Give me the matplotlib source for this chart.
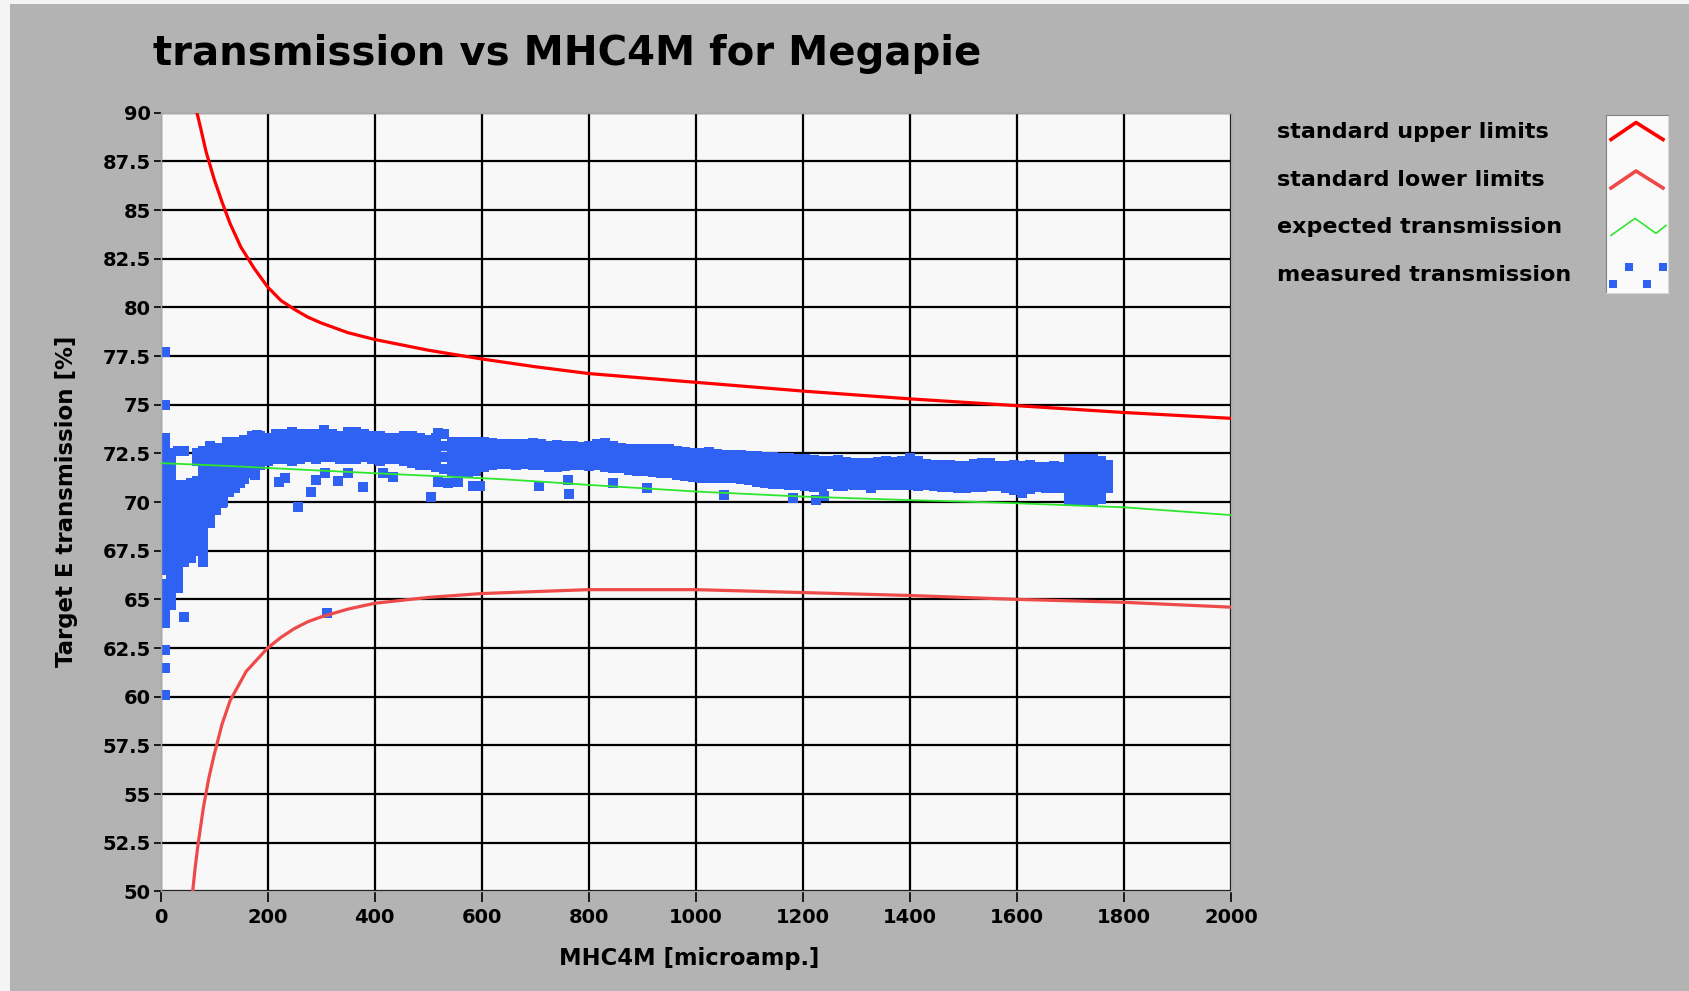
import matplotlib
matplotlib.use("Agg")
import matplotlib.pyplot as plt
from matplotlib.patches import Rectangle

plt.rcParams['font.family'] = ['DejaVu Sans']
plt.rcParams['font.weight'] = 'bold'

# limit curves and expected transmission
upper_x = [68, 75, 85, 100, 115, 130, 150, 175, 200, 225, 250, 275, 300, 350, 400, 500, 600, 700,
           800, 1000, 1200, 1400, 1600, 1800, 2000]
upper_y = [90.0, 89.2, 88.0, 86.6, 85.4, 84.3, 83.1, 82.0, 81.05, 80.35, 79.9, 79.5, 79.2, 78.7,
           78.35, 77.8, 77.35, 76.95, 76.6, 76.15, 75.7, 75.3, 74.95, 74.6, 74.3]

lower_x = [60, 65, 70, 80, 90, 100, 115, 130, 160, 200, 225, 250, 275, 300, 350, 400, 500, 600,
           700, 800, 1000, 1200, 1400, 1600, 1800, 2000]
lower_y = [50.0, 51.3, 52.4, 54.3, 55.8, 57.0, 58.6, 59.8, 61.3, 62.5, 63.05, 63.5, 63.85, 64.1,
           64.5, 64.8, 65.1, 65.3, 65.4, 65.5, 65.5, 65.35, 65.2, 65.0, 64.85, 64.6]

expected_x = [0, 130, 200, 400, 634, 709, 800, 1000, 1200, 1400, 1568, 1800, 2000]
expected_y = [72.0, 71.85, 71.75, 71.48, 71.18, 71.05, 70.88, 70.54, 70.28, 70.1, 69.97, 69.73, 69.33]

# measured transmission: main band (four rows of points per current value)
band_x = [95, 110, 125, 140, 155, 170, 185, 200, 215, 230, 245, 260, 275, 290, 305, 320, 335, 350,
          365, 380, 395, 410, 425, 440, 455, 470, 485, 500, 515, 530, 545, 560, 575, 590, 605, 620,
          635, 650, 665, 680, 695, 710, 725, 740, 755, 770, 785, 800, 815, 830, 845, 860, 875, 890,
          905, 920, 935, 950, 965, 980, 995, 1010, 1025, 1040, 1055, 1070, 1085, 1100, 1115, 1130,
          1145, 1160, 1175, 1190, 1205, 1220, 1235, 1250, 1265, 1280, 1295, 1310, 1325, 1340, 1355,
          1370, 1385, 1400, 1415, 1430, 1445, 1460, 1475, 1490, 1505, 1520, 1535, 1550, 1565, 1580,
          1595, 1610, 1625, 1640, 1655, 1670, 1685]
band_top = [72.4, 72.8, 73.1, 73.1, 73.2, 73.4, 73.4, 73.3, 73.5, 73.5, 73.6, 73.5, 73.5, 73.5,
            73.7, 73.5, 73.4, 73.6, 73.6, 73.5, 73.4, 73.4, 73.3, 73.3, 73.4, 73.4, 73.3, 73.2,
            73.3, 73.5, 73.1, 73.1, 73.1, 73.1, 73.1, 73.05, 73.0, 73.0, 73.0, 73.0, 73.05, 73.0,
            72.9, 72.95, 72.9, 72.9, 72.85, 72.9, 73.0, 73.05, 72.9, 72.8, 72.75, 72.75, 72.7,
            72.7, 72.75, 72.7, 72.6, 72.55, 72.5, 72.5, 72.55, 72.45, 72.4, 72.4, 72.4, 72.35,
            72.35, 72.3, 72.3, 72.25, 72.25, 72.2, 72.2, 72.15, 72.1, 72.1, 72.15, 72.05, 72.0,
            72.0, 72.0, 72.05, 72.1, 72.05, 72.1, 72.25, 72.1, 71.95, 71.9, 71.9, 71.9, 71.85,
            71.85, 71.95, 72.0, 72.0, 71.85, 71.85, 71.9, 71.85, 71.9, 71.8, 71.8, 71.85, 71.8]
band_upper = [72.07, 72.27, 72.4, 72.43, 72.53, 72.77, 72.9, 72.9, 73.07, 73.07, 73.1, 73.07, 73.1,
              73.07, 73.23, 73.1, 73.0, 73.13, 73.13, 73.1, 73.0, 72.97, 72.93, 72.93, 72.97,
              72.93, 72.83, 72.77, 72.8, 72.9, 72.6, 72.58, 72.58, 72.6, 72.67, 72.67, 72.65,
              72.65, 72.63, 72.65, 72.67, 72.63, 72.53, 72.57, 72.55, 72.57, 72.53, 72.55, 72.63,
              72.63, 72.52, 72.45, 72.38, 72.37, 72.33, 72.32, 72.33, 72.3, 72.2, 72.15, 72.1,
              72.08, 72.12, 72.05, 72.02, 72.02, 72.0, 71.95, 71.92, 71.87, 71.85, 71.82, 71.8,
              71.77, 71.73, 71.68, 71.67, 71.72, 71.7, 71.68, 71.62, 71.63, 71.65, 71.67, 71.7,
              71.65, 71.7, 71.78, 71.67, 71.58, 71.53, 71.52, 71.52, 71.47, 71.47, 71.55, 71.58,
              71.6, 71.5, 71.47, 71.47, 71.38, 71.48, 71.45, 71.43, 71.47, 71.43]
band_lower = [71.73, 71.73, 71.7, 71.77, 71.87, 72.13, 72.4, 72.5, 72.63, 72.63, 72.6, 72.63, 72.7,
              72.63, 72.77, 72.7, 72.6, 72.67, 72.67, 72.7, 72.6, 72.53, 72.57, 72.57, 72.53,
              72.47, 72.37, 72.33, 72.3, 72.3, 72.1, 72.07, 72.07, 72.1, 72.23, 72.28, 72.3, 72.3,
              72.27, 72.3, 72.28, 72.27, 72.17, 72.18, 72.2, 72.23, 72.22, 72.2, 72.27, 72.22,
              72.13, 72.1, 72.02, 71.98, 71.97, 71.93, 71.92, 71.9, 71.8, 71.75, 71.7, 71.67,
              71.68, 71.65, 71.63, 71.63, 71.6, 71.55, 71.48, 71.43, 71.4, 71.38, 71.35, 71.33,
              71.27, 71.22, 71.23, 71.33, 71.25, 71.32, 71.23, 71.27, 71.3, 71.28, 71.3, 71.25,
              71.3, 71.32, 71.23, 71.22, 71.17, 71.13, 71.13, 71.08, 71.08, 71.15, 71.17, 71.2,
              71.15, 71.08, 71.03, 70.92, 71.07, 71.1, 71.07, 71.08, 71.07]
band_bottom = [71.4, 71.2, 71.0, 71.1, 71.2, 71.5, 71.9, 72.1, 72.2, 72.2, 72.1, 72.2, 72.3, 72.2,
               72.3, 72.3, 72.2, 72.2, 72.2, 72.3, 72.2, 72.1, 72.2, 72.2, 72.1, 72.0, 71.9, 71.9,
               71.8, 71.7, 71.6, 71.55, 71.55, 71.6, 71.8, 71.9, 71.95, 71.95, 71.9, 71.95, 71.9,
               71.9, 71.8, 71.8, 71.85, 71.9, 71.9, 71.85, 71.9, 71.8, 71.75, 71.75, 71.65, 71.6,
               71.6, 71.55, 71.5, 71.5, 71.4, 71.35, 71.3, 71.25, 71.25, 71.25, 71.25, 71.25, 71.2,
               71.15, 71.05, 71.0, 70.95, 70.95, 70.9, 70.9, 70.8, 70.75, 70.8, 70.95, 70.8, 70.95,
               70.85, 70.9, 70.95, 70.9, 70.9, 70.85, 70.9, 70.85, 70.8, 70.85, 70.8, 70.75, 70.75,
               70.7, 70.7, 70.75, 70.75, 70.8, 70.8, 70.7, 70.6, 70.45, 70.65, 70.75, 70.7, 70.7,
               70.7]

# measured transmission: low-current cluster
cluster_x = [8, 8, 8, 8, 8, 8, 8, 8, 8, 8, 8, 8, 8, 8, 8, 8, 8, 8, 8, 8, 8, 8, 8, 8, 8, 8, 8, 8, 8,
             20, 20, 20, 20, 20, 20, 20, 20, 20, 20, 20, 20, 20, 20, 20, 20, 20, 20, 20, 20,
             32, 32, 32, 32, 32, 32, 32, 32, 32, 32, 32, 32, 32, 32, 32,
             44, 44, 44, 44, 44, 44, 44, 44, 44, 44, 44, 44, 44,
             56, 56, 56, 56, 56, 56, 56, 56, 56, 56, 56,
             68, 68, 68, 68, 68, 68, 68, 68, 68, 68, 68, 68,
             80, 80, 80, 80, 80, 80, 80, 80, 80, 80, 80, 80, 80, 80, 80,
             92, 92, 92, 92, 92, 92, 92, 92, 92, 92, 92,
             104, 104, 104, 104, 104, 104, 104,
             116, 116, 116, 116, 116,
             125, 125, 125,
             128, 128, 128, 128, 128,
             140, 140, 140, 140, 140, 140,
             155, 155, 155, 155,
             170, 170, 170,
             185, 185, 185]
cluster_y = [77.7, 75.0, 73.3, 72.9, 72.5, 72.1, 71.7, 71.3, 70.9, 70.5, 70.1, 69.7, 69.3, 68.9,
             68.5, 68.1, 67.7, 67.3, 66.9, 66.5, 65.8, 65.4, 65.0, 64.6, 64.2, 63.8, 62.4, 61.5, 60.1,
             72.5, 72.1, 71.7, 71.3, 70.8, 70.4, 70.0, 69.6, 69.2, 68.8, 68.4, 68.0, 67.6, 67.2,
             66.8, 66.4, 65.9, 65.5, 65.1, 64.7,
             72.6, 70.9, 70.5, 70.1, 69.7, 69.3, 68.9, 68.5, 68.1, 67.7, 67.3, 66.9, 66.5, 66.0, 65.6,
             72.6, 70.9, 70.5, 70.1, 69.7, 69.3, 68.9, 68.5, 68.1, 67.7, 67.3, 66.9, 64.1,
             71.0, 70.6, 70.2, 69.8, 69.4, 69.0, 68.6, 68.2, 67.8, 67.4, 67.1,
             72.5, 72.1, 71.1, 70.7, 70.3, 69.9, 69.5, 69.1, 68.7, 68.3, 67.9, 67.5,
             72.6, 72.2, 71.8, 71.3, 70.9, 70.5, 70.1, 69.7, 69.3, 68.9, 68.5, 68.1, 67.7, 67.3, 66.9,
             72.9, 72.5, 72.1, 71.7, 71.3, 70.9, 70.5, 70.1, 69.7, 69.3, 68.9,
             72.0, 71.6, 71.2, 70.8, 70.4, 70.0, 69.6,
             71.6, 71.2, 70.8, 70.4, 70.0,
             72.75, 72.05, 71.35,
             72.0, 71.6, 71.2, 70.8, 70.5,
             72.75, 72.2, 71.8, 71.4, 71.0, 70.7,
             72.85, 72.1, 71.7, 71.3,
             73.1, 72.45, 71.8,
             73.15, 72.65, 72.15]

# measured transmission: high-current blob
blob_x = [1697, 1697, 1697, 1697, 1697, 1697, 1697,
          1712, 1712, 1712, 1712, 1712, 1712, 1712,
          1727, 1727, 1727, 1727, 1727, 1727, 1727,
          1742, 1742, 1742, 1742, 1742, 1742, 1742,
          1757, 1757, 1757, 1757, 1757, 1757,
          1770, 1770, 1770, 1770]
blob_y = [72.2, 71.8, 71.4, 71.0, 70.6, 70.2, 70.05,
          72.2, 71.8, 71.4, 71.0, 70.6, 70.2, 70.05,
          72.2, 71.8, 71.4, 71.0, 70.6, 70.2, 70.05,
          72.2, 71.8, 71.4, 71.0, 70.6, 70.2, 70.05,
          72.1, 71.7, 71.3, 70.9, 70.5, 70.15,
          71.9, 71.5, 71.1, 70.7]

# measured transmission: scattered single points
outlier_x = [114, 149, 177, 181, 222, 232, 257, 282, 291, 307, 311, 331, 350, 378, 415, 434, 506,
             518, 518, 537, 556, 584, 596, 708, 761, 764, 845, 909, 1052, 1181, 1225, 1240, 1275,
             1328]
outlier_y = [69.97, 70.96, 71.39, 73.45, 71.05, 71.24, 69.76, 70.53, 71.13, 71.48, 64.29, 71.1,
             71.48, 70.76, 71.48, 71.3, 70.25, 71.05, 73.57, 70.96, 71.05, 70.83, 70.83, 70.83,
             71.13, 70.42, 70.96, 70.71, 70.36, 70.2, 70.11, 70.3, 70.8, 70.71]

x_ticks = [0, 200, 400, 600, 800, 1000, 1200, 1400, 1600, 1800, 2000]
y_ticks = [50, 52.5, 55, 57.5, 60, 62.5, 65, 67.5, 70, 72.5, 75, 77.5, 80, 82.5, 85, 87.5, 90]
y_tick_labels = ['50', '52.5', '55', '57.5', '60', '62.5', '65', '67.5', '70', '72.5', '75',
                 '77.5', '80', '82.5', '85', '87.5', '90']

legend_labels = ['standard upper limits', 'standard lower limits', 'expected transmission',
                 'measured transmission']

c_upper = '#ff0000'
c_lower = '#ef4a4a'
c_expected = '#2ee62e'
c_measured = '#2f62f2'

fig = plt.figure(figsize=(16.9, 9.91), dpi=100, facecolor='#b3b3b3')
# light strip along the left and top edges of the panel
fig.patches.append(Rectangle((0, 0), 10 / 1690, 1, transform=fig.transFigure,
                             facecolor='#f4f4f4', edgecolor='none', zorder=0))
fig.patches.append(Rectangle((0, 1 - 4 / 991), 1, 4 / 991, transform=fig.transFigure,
                             facecolor='#f4f4f4', edgecolor='none', zorder=0))

ax = fig.add_axes([0.095, 0.1005, 0.6334, 0.7858], facecolor='#f8f8f8')

ax.scatter(band_x + band_x + band_x + band_x + cluster_x + blob_x + outlier_x,
           band_top + band_upper + band_lower + band_bottom + cluster_y + blob_y + outlier_y,
           marker='s', s=48, color=c_measured, linewidths=0, zorder=2)
ax.plot(upper_x, upper_y, color=c_upper, lw=2.3, zorder=3)
ax.plot(lower_x, lower_y, color=c_lower, lw=2.3, zorder=3)
ax.plot(expected_x, expected_y, color=c_expected, lw=1.3, zorder=3)

ax.set_xlim(0, 2000)
ax.set_ylim(50, 90)
ax.set_xticks(x_ticks)
ax.set_yticks(y_ticks)
ax.set_yticklabels(y_tick_labels)
ax.grid(True, color='black', lw=1.6, zorder=1)
ax.set_axisbelow(True)
ax.tick_params(axis='y', length=5, width=1.2, pad=2, labelsize=14)
ax.tick_params(axis='x', length=8, width=1.2, pad=4, labelsize=14)
for side in ['top', 'right', 'bottom', 'left']:
    ax.spines[side].set_color('#a8a8a8')
    ax.spines[side].set_linewidth(1)

ax.set_xlabel('MHC4M [microamp.]', fontsize=16.3, fontweight='bold')
ax.set_ylabel('Target E transmission [%]', fontsize=16.5, fontweight='bold')
ax.xaxis.set_label_coords(0.494, -0.0714)
ax.yaxis.set_label_coords(-0.0774, 0.501)

fig.text(153 / 1690, 1 - 54 / 991, 'transmission vs MHC4M for Megapie',
         fontsize=29, fontweight='bold', ha='left', va='center')

# legend: labels on the left, glyphs in a small white box on the right
label_y = [131.5, 180, 227.4, 274.8]
for lab, yy in zip(legend_labels, label_y):
    fig.text(1277 / 1690, 1 - yy / 991, lab, fontsize=16, fontweight='bold',
             ha='left', va='center')

lax = fig.add_axes([1606 / 1690, 1 - 293 / 991, 62 / 1690, 178 / 991], facecolor='#fafafa')
lax.set_xlim(0, 62)
lax.set_ylim(293, 115)
lax.set_xticks([])
lax.set_yticks([])
for side in ['top', 'left']:
    lax.spines[side].set_color('#808080')
for side in ['bottom', 'right']:
    lax.spines[side].set_color('#d8d8d8')
r = label_y
lax.plot([5, 30, 57], [r[0] + 8, r[0] - 9, r[0] + 8], color=c_upper, lw=2.6)
lax.plot([5, 30, 57], [r[1] + 8, r[1] - 9, r[1] + 8], color=c_lower, lw=2.6)
lax.plot([5, 29, 50, 60], [r[2] + 8, r[2] - 9, r[2] + 6, r[2] - 2], color=c_expected, lw=1.2)
lax.scatter([7, 23, 41, 57], [r[3] + 9, r[3] - 8, r[3] + 9, r[3] - 8], marker='s', s=40,
            color=c_measured, linewidths=0)

fig.savefig('out.png', dpi=100, facecolor=fig.get_facecolor())
